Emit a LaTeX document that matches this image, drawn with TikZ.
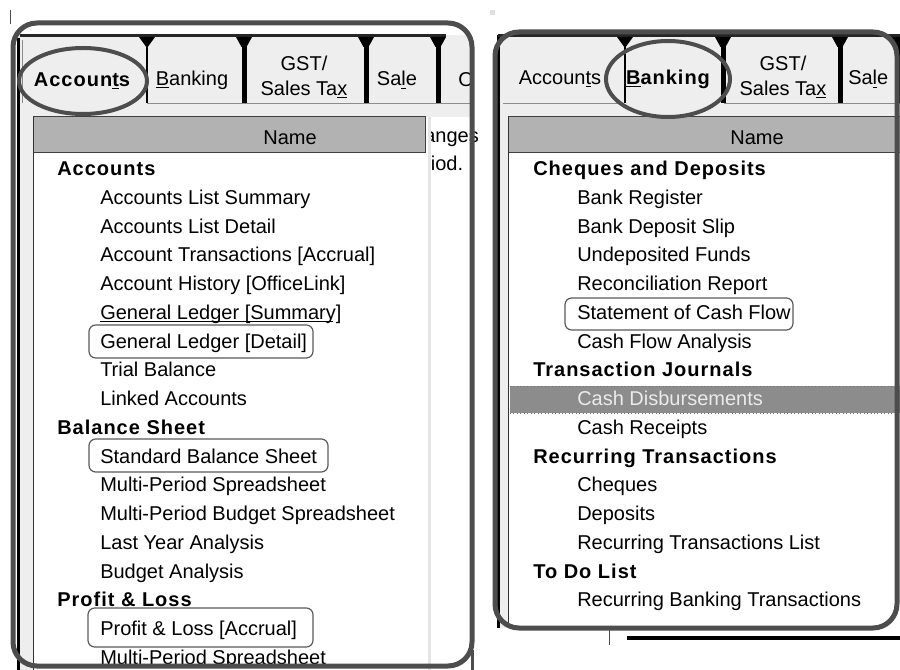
\documentclass[tikz,border=0pt]{standalone}
\usepackage{fontspec}
\setmainfont{Liberation Sans}
\newfontfamily\boldwide[LetterSpace=5]{Liberation Sans Bold}
\definecolor{ringgray}{HTML}{4D4D4D}
\definecolor{tabbg}{HTML}{EEEEEE}
\definecolor{hdrgray}{HTML}{B2B2B2}
\definecolor{selgray}{HTML}{8C8C8C}
\definecolor{boxgray}{HTML}{5A5A5A}
\begin{document}
\begin{tikzpicture}[x=0.75pt,y=-0.75pt,
  txt/.style={inner sep=0pt, font=\fontsize{15}{15}\selectfont},
  item/.style={txt, anchor=mid west},
  head/.style={txt, anchor=mid west, font=\fontsize{15}{15}\boldwide},
  selitem/.style={item, text=black!8},
  tabtxt/.style={txt, align=center, font=\fontsize{15}{18.75}\selectfont},
  ring/.style={draw=ringgray, line width=3pt},
  frame/.style={draw=ringgray, line width=3.75pt, rounded corners=18pt},
  hilite/.style={draw=boxgray, line width=0.9pt, rounded corners=5pt},
  divider/.style={fill=black},
  hdr/.style={fill=hdrgray, draw=black!75, line width=0.75pt},
]
\useasboundingbox (0,0) rectangle (900,670);
\fill[white] (0,0) rectangle (900,670);

% ---------------- LEFT WINDOW ----------------
\fill[tabbg] (17,35) rectangle (472,117);
\fill[tabbg] (17,117) rectangle (33,670);
% background text of another window
\node[item] (bgA) at (424,139) {anges};
\node[item] (bgB) at (424,167) {riod.};
\fill[white] (33,117) rectangle (428,670);
\fill[black!10] (428,117) rectangle (431,670);
\draw[hdr] (33,117) rectangle (425,153);
\node[txt] (nameL) at (290,138) {Name};
\draw[black!80, line width=0.75pt] (33,117) -- (33,670);
\draw[black, line width=2.25pt] (18,38) -- (18,670);
% tab strip
\draw[black!85, line width=2.25pt] (20,36) -- (446,36);
\draw[black!45, line width=0.75pt] (147,103.5) -- (470,103.5);
\draw[black!45, line width=0.75pt] (22,40) -- (22,103);
\foreach \xx/\w in {147/1.5, 244/5, 366/5, 438/5}{
  \fill[divider] (\xx-\w/2,38) rectangle (\xx+\w/2,103);
  \fill[divider] (\xx-8,37) -- (\xx+8,37) -- (\xx+\w/2,47) -- (\xx-\w/2,47) -- cycle;
}
\node[txt, font=\fontsize{15}{15}\boldwide] (tA) at (82,81) {Accoun\underline{t}s};
\node[txt] (tB) at (192,80) {\underline{B}anking};
\node[tabtxt] (tG) at (304,77) {GST/\\Sales Ta\underline{x}};
\node[txt] (tS) at (397,80) {Sa\underline{l}e};
\begin{scope}
\clip (450,40) rectangle (471,110);
\node[txt, anchor=west] (tO) at (458,80) {O};
\end{scope}

% left list
\foreach \xx/\s/\t [count=\i] in {
  57/head/Accounts,
  100/item/Accounts List Summary,
  100/item/Accounts List Detail,
  100/item/Account Transactions [Accrual],
  100/item/Account History [OfficeLink],
  100/item/General Ledger [Summary],
  100/item/General Ledger [Detail],
  100/item/Trial Balance,
  100/item/Linked Accounts,
  57/head/Balance Sheet,
  100/item/Standard Balance Sheet,
  100/item/Multi-Period Spreadsheet,
  100/item/Multi-Period Budget Spreadsheet,
  100/item/Last Year Analysis,
  100/item/Budget Analysis,
  57/head/Profit \& Loss,
  100/item/Profit \& Loss [Accrual],
  100/item/Multi-Period Spreadsheet}{
  \node[\s] (L\i) at (\xx,{172+(\i-1)*28.75}) {\t};
}
\draw[black, line width=0.75pt] (L6.south west) ++(0,-2) -- ++(233,0);
\draw[hilite] (89,325) rectangle (313,358);
\draw[hilite] (89,439) rectangle (328,472);
\draw[hilite] (88,608) rectangle (313,647);

% ---------------- RIGHT WINDOW ----------------
\fill[tabbg] (497,35) rectangle (900,628);
\fill[white] (508,117) rectangle (900,628);
\draw[hdr] (508,117) rectangle (902,153);
\node[txt] (nameR) at (757,138) {Name};
\draw[black!80, line width=0.75pt] (508,117) -- (508,628);
\draw[black, line width=2.25pt] (498,35) -- (498,628);
\draw[black!85, line width=2.25pt] (498,36) -- (900,36);
\draw[black!45, line width=0.75pt] (503,103.5) -- (623,103.5);
\draw[black!45, line width=0.75pt] (724,103.5) -- (900,103.5);
\foreach \xx/\w in {625/1.5, 723/5, 840/5, 899/2}{
  \fill[divider] (\xx-\w/2,38) rectangle (\xx+\w/2,103);
  \fill[divider] (\xx-8,37) -- (\xx+8,37) -- (\xx+\w/2,47) -- (\xx-\w/2,47) -- cycle;
}
\node[txt] (rA) at (560,79) {Accoun\underline{t}s};
\node[txt, font=\fontsize{15}{15}\boldwide] (rB) at (668,79) {\underline{B}anking};
\node[tabtxt] (rG) at (783,77) {GST/\\Sales Ta\underline{x}};
\node[txt, anchor=west] (rS) at (848,79) {Sa\underline{l}e};

% selection bar
\fill[selgray] (510,386) rectangle (900,413);
\draw[black!55, dotted, line width=0.6pt] (510,386) -- (900,386);
\draw[black!55, dotted, line width=0.6pt] (510,413) -- (900,413);

\foreach \xx/\s/\t [count=\i] in {
  533/head/Cheques and Deposits,
  577/item/Bank Register,
  577/item/Bank Deposit Slip,
  577/item/Undeposited Funds,
  577/item/Reconciliation Report,
  577/item/Statement of Cash Flow,
  577/item/Cash Flow Analysis,
  533/head/Transaction Journals,
  577/selitem/Cash Disbursements,
  577/item/Cash Receipts,
  533/head/Recurring Transactions,
  577/item/Cheques,
  577/item/Deposits,
  577/item/Recurring Transactions List,
  533/head/To Do List,
  577/item/Recurring Banking Transactions}{
  \node[\s] (R\i) at (\xx,{172+(\i-1)*28.75}) {\t};
}
\draw[hilite] (565,298) rectangle (793,330);

% bottom edges under right window
\draw[black, line width=3pt] (627,638) -- (900,638);
\draw[black!70, line width=0.75pt] (609,628) -- (609,645);

% small marks
\draw[black!70, line width=0.75pt] (10,10) -- (10,24);
\fill[black!12] (490,10) rectangle (495,15);
\draw[ringgray, line width=2.25pt] (472,650) -- (472,670);

% annotation frames and ellipses
\draw[frame] (13,23) rectangle (472,666);
\draw[frame] (495,32) rectangle (897,628);
\draw[ring] (83,81) ellipse [x radius=64, y radius=33];
\draw[ring] (668,79) ellipse [x radius=62, y radius=38];
\end{tikzpicture}
\end{document}
